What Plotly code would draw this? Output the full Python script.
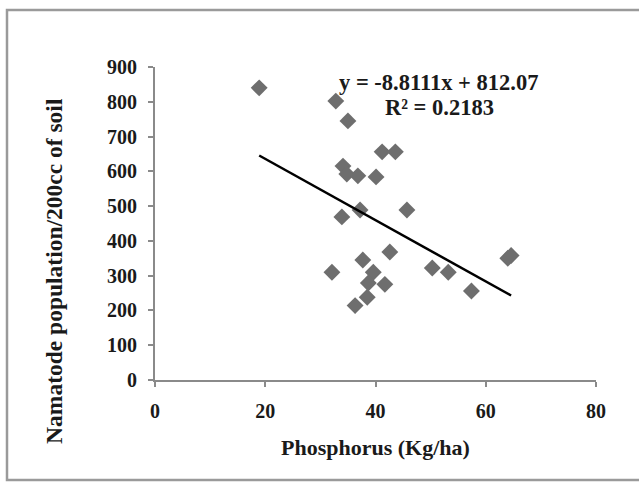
import plotly.graph_objects as go

# Data
phosphorus = [18.9, 32.8, 35.0, 41.2, 43.6, 34.1, 34.8, 36.8, 40.1,
              33.9, 37.2, 45.7, 42.6, 32.1, 37.7, 39.6, 41.7, 38.7,
              38.5, 36.3, 50.3, 53.2, 57.4, 64.0, 64.6]
nematodes = [840, 802, 745, 656, 656, 615, 592, 587, 584,
             469, 489, 489, 368, 310, 345, 310, 275, 279,
             238, 214, 322, 310, 256, 350, 358]

slope = -8.8111
intercept = 812.07
r_squared = 0.2183

x_ticks = [0, 20, 40, 60, 80]
y_ticks = [0, 100, 200, 300, 400, 500, 600, 700, 800, 900]

xmin, xmax = min(phosphorus), max(phosphorus)
trend_x = [xmin, xmax]
trend_y = [slope * v + intercept for v in trend_x]

SERIF = "Liberation Serif, Times New Roman, serif"
AXC = "#8a8a8a"
TXT = "#1a1a1a"

fig = go.Figure()
fig.add_trace(go.Scatter(
    x=phosphorus, y=nematodes, mode="markers",
    marker=dict(symbol="diamond", size=13, color="#6e6e6e",
                line=dict(width=0)),
    showlegend=False, cliponaxis=False))
fig.add_trace(go.Scatter(
    x=trend_x, y=trend_y, mode="lines",
    line=dict(color="black", width=2.5),
    showlegend=False))

axis_common = dict(
    showline=True, linecolor=AXC, linewidth=2,
    ticks="outside", tickcolor=AXC, tickwidth=2, ticklen=5,
    showgrid=False, zeroline=False,
    tickfont=dict(family=SERIF, size=20, color=TXT, weight="bold"),
)

fig.update_xaxes(range=[0, 80], tickvals=x_ticks, ticklabelstandoff=7, **axis_common)
fig.update_yaxes(range=[0, 900], tickvals=y_ticks, ticklabelstandoff=7, **axis_common)

fig.update_layout(
    width=639, height=483,
    margin=dict(l=155, r=43, t=67, b=103),
    paper_bgcolor="white", plot_bgcolor="white",
    shapes=[dict(type="rect", xref="paper", yref="paper",
                 x0=-0.3356, x1=1.25, y0=-0.3195, y1=1.182,
                 line=dict(color="#9a9a9a", width=2.5),
                 fillcolor="rgba(0,0,0,0)", layer="below")],
    annotations=[
        dict(text="Phosphorus (Kg/ha)", xref="paper", yref="paper",
             x=0.5, y=-0.215, xanchor="center", yanchor="middle",
             showarrow=False,
             font=dict(family=SERIF, size=22, color=TXT, weight="bold")),
        dict(text="Namatode population/200cc of soil", xref="paper", yref="paper",
             x=-0.228, y=0.35, xanchor="center", yanchor="middle",
             textangle=-90, showarrow=False,
             font=dict(family=SERIF, size=23.5, color=TXT, weight="bold")),
        dict(text=f"y = {slope}x + {intercept}", xref="paper", yref="paper",
             x=0.642, y=0.952, xanchor="center", yanchor="middle",
             showarrow=False,
             font=dict(family=SERIF, size=22.5, color=TXT, weight="bold")),
        dict(text=f"R² = {r_squared}", xref="paper", yref="paper",
             x=0.645, y=0.87, xanchor="center", yanchor="middle",
             showarrow=False,
             font=dict(family=SERIF, size=22.5, color=TXT, weight="bold")),
    ],
)

fig.write_html("out.html")
